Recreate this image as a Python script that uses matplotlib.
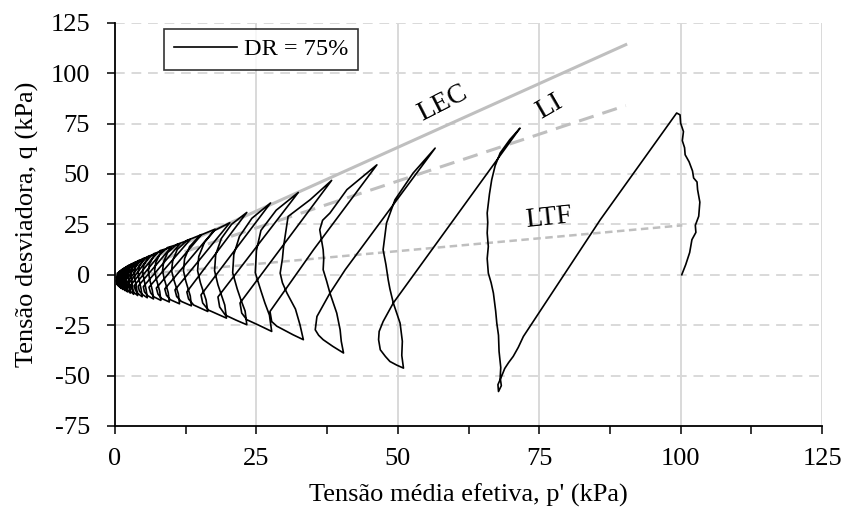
import matplotlib
matplotlib.use('Agg')
import matplotlib.pyplot as plt

plt.rcParams['font.family'] = ['Liberation Serif', 'DejaVu Serif']
plt.rcParams['axes.unicode_minus'] = False

# stress path p' (kPa), q (kPa), one line per half cycle
p_path = [
    100.2, 100.9, 101.6, 102.0, 102.7, 102.6, 103.2, 103.4, 103.0, 102.9, 102.3, 102.1, 101.5, 100.8,
    100.7, 100.3, 100.5, 100.0, 99.9, 99.3,
    85.8, 72.2, 71.3, 70.4, 69.6, 68.9, 68.4, 67.7, 67.8,
    68.3, 68.1, 68.2, 67.9, 67.8, 67.5, 67.3, 66.9, 66.5, 66.0, 65.8, 66.0, 65.8, 65.9, 65.8, 66.2,
    66.6, 67.2, 68.1, 69.8, 71.6,
    49.2, 47.4, 46.7, 46.6, 46.9, 47.8, 48.6, 49.8, 51.0,
    50.7, 50.8, 50.4, 49.8, 49.2, 48.6, 48.3, 47.9, 47.4, 47.7, 48.0, 49.5, 52.7, 56.6,
    40.7, 38.0, 35.7, 35.4, 36.0, 36.8, 38.5, 40.4,
    40.0, 39.8, 39.2, 38.0, 37.4, 36.8, 36.9, 36.8, 36.2, 36.7, 38.0, 41.0, 46.3,
    35.1, 27.4, 27.7, 28.6, 29.8, 31.5, 33.3,
    32.7, 31.9, 30.4, 29.6, 29.2, 29.6, 29.8, 30.6, 34.5, 38.3,
    22.1, 22.4, 23.3, 25.4, 27.7,
    27.3, 26.5, 25.8, 24.8, 25.0, 25.8, 28.5, 32.4,
    18.2, 18.5, 19.5, 21.4, 23.3,
    23.0, 22.2, 21.6, 20.8, 21.0, 22.0, 24.2, 27.5,
    15.2, 15.5, 16.5, 19.7,
    19.4, 18.2, 17.6, 17.8, 18.8, 20.6, 23.3,
    12.7, 13.0, 13.9, 16.4,
    16.1, 15.1, 14.6, 14.8, 15.8, 17.6, 20.3,
    10.6, 10.9, 11.7, 13.5,
    13.3, 12.5, 12.1, 12.3, 13.2, 15.0, 17.7,
    8.8, 9.1, 9.8, 11.4,
    11.2, 10.4, 10.0, 10.2, 11.0, 12.7, 15.3,
    7.3, 7.6, 8.2, 9.6,
    9.4, 8.7, 8.4, 8.6, 9.3, 10.9, 13.3,
    6.0, 6.3, 6.9, 8.1,
    7.9, 7.3, 7.0, 7.2, 7.9, 9.3, 11.5,
    5.0, 5.2, 5.8, 6.8,
    6.6, 6.1, 5.9, 6.1, 6.8, 8.0, 9.9,
    4.1, 4.3, 4.9, 5.7,
    5.5, 5.1, 4.9, 5.1, 5.8, 6.9, 8.5,
    3.4, 3.6, 4.1, 4.8,
    4.6, 4.2, 4.1, 4.3, 4.9, 5.9, 7.3,
    2.8, 3.0, 3.4, 4.0,
    3.8, 3.5, 3.4, 3.6, 4.1, 5.0, 6.2,
    2.3, 2.5, 2.8, 3.3,
    3.1, 2.9, 2.8, 3.0, 3.4, 4.2, 5.3,
    1.9, 2.0, 2.3, 2.7,
    2.6, 2.4, 2.3, 2.5, 2.9, 3.5, 4.5,
    1.5, 1.6, 1.9, 2.2,
    2.1, 1.9, 1.9, 2.0, 2.4, 2.9, 3.8,
    1.2, 1.3, 1.5, 1.8,
    1.7, 1.6, 1.5, 1.6, 2.0, 2.4, 3.1,
    0.9, 1.0, 1.2, 1.4,
    1.3, 1.2, 1.2, 1.3, 1.6, 2.0, 2.5,
    0.7, 0.8, 0.9, 1.1,
    1.0, 0.9, 0.9, 1.0, 1.3, 1.6, 2.0,
    0.5, 0.6, 0.7, 0.9,
    0.8, 0.7, 0.7, 0.8, 1.0, 1.3, 1.6,
    0.4, 0.45, 0.55, 0.7,
    0.6, 0.55, 0.5, 0.6, 0.8, 1.2,
    0.3, 0.35, 0.45, 0.55,
    0.5, 0.4, 0.35, 0.4, 0.8,
    0.2, 0.3, 0.4,
    0.35, 0.3, 0.25,
]
q_path = [
    0.0, 5.0, 11.0, 17.4, 21.0, 24.5, 29.0, 36.0, 42.2, 46.0, 48.0, 51.5, 56.0, 59.5,
    63.0, 66.5, 71.0, 75.2, 79.3, 80.2,
    27.3, -30.6, -36.0, -40.5, -43.5, -46.5, -50.0, -54.5, -57.9,
    -55.0, -51.0, -46.0, -38.0, -30.0, -24.0, -18.0, -9.1, -4.0, 0.8, 8.0, 14.0, 20.7, 26.0, 30.6, 40.0,
    47.1, 54.0, 60.4, 67.0, 72.7,
    -14.0, -23.2, -28.1, -32.2, -37.2, -40.5, -43.0, -44.8, -46.3,
    -40.0, -33.0, -24.0, -19.0, -14.0, -7.0, -2.5, 5.0, 12.4, 19.0, 25.6, 37.2, 50.4, 62.8,
    2.5, -9.1, -20.7, -27.3, -30.0, -32.2, -35.5, -38.8,
    -33.0, -27.3, -19.0, -9.1, -3.0, 2.5, 8.0, 12.4, 22.3, 27.0, 30.6, 42.2, 54.5,
    12.4, -18.2, -23.2, -25.5, -27.3, -29.8, -32.2,
    -24.8, -17.0, -9.1, -4.0, 0.8, 8.0, 14.0, 28.9, 37.2, 46.8,
    -14.0, -19.0, -22.3, -25.0, -28.1,
    -20.0, -14.0, -8.0, 1.0, 12.0, 22.0, 32.0, 40.8,
    -11.0, -16.0, -20.0, -22.5, -24.8,
    -18.0, -12.0, -7.0, 1.0, 10.0, 19.0, 28.0, 35.6,
    -10.0, -14.0, -17.5, -21.5,
    -15.0, -5.0, 2.0, 10.0, 18.0, 25.0, 30.9,
    -8.5, -12.0, -15.0, -18.2,
    -12.5, -4.0, 2.0, 9.0, 16.0, 22.0, 25.8,
    -7.5, -10.8, -13.2, -15.4,
    -10.5, -3.0, 2.0, 8.0, 14.0, 19.5, 22.6,
    -7.0, -10.2, -12.4, -14.4,
    -9.5, -2.5, 2.0, 7.0, 12.5, 17.0, 19.9,
    -6.6, -9.6, -11.7, -13.5,
    -8.8, -2.0, 2.0, 6.5, 11.0, 15.0, 17.5,
    -6.2, -9.0, -11.0, -12.7,
    -8.2, -2.0, 2.0, 6.0, 10.0, 13.5, 15.4,
    -5.9, -8.5, -10.4, -12.0,
    -7.8, -2.0, 1.5, 5.5, 9.0, 12.0, 13.6,
    -5.6, -8.1, -9.9, -11.4,
    -7.4, -2.0, 1.5, 5.0, 8.0, 10.5, 12.0,
    -5.4, -7.7, -9.4, -10.9,
    -7.0, -1.8, 1.2, 4.5, 7.0, 9.2, 10.5,
    -5.1, -7.3, -8.9, -10.3,
    -6.6, -1.6, 1.0, 4.0, 6.2, 8.1, 9.2,
    -4.8, -6.9, -8.4, -9.7,
    -6.2, -1.5, 1.0, 3.6, 5.5, 7.1, 8.1,
    -4.6, -6.5, -7.9, -9.1,
    -5.8, -1.4, 0.8, 3.2, 4.9, 6.2, 7.1,
    -4.3, -6.1, -7.4, -8.5,
    -5.4, -1.3, 0.6, 2.8, 4.3, 5.4, 6.2,
    -4.1, -5.7, -6.9, -7.9,
    -5.0, -1.2, 0.5, 2.4, 3.7, 4.7, 5.3,
    -3.9, -5.3, -6.4, -7.3,
    -4.6, -1.2, 0.4, 2.0, 3.1, 4.0, 4.5,
    -3.7, -5.0, -6.0, -6.8,
    -4.3, -1.2, 0.3, 1.6, 2.6, 3.3, 3.7,
    -3.5, -4.7, -5.6, -6.3,
    -4.0, -1.3, 0.1, 1.2, 2.1, 2.7, 3.0,
    -3.3, -4.4, -5.2, -5.8,
    -3.8, -1.5, 0.0, 1.0, 1.7, 2.3,
    -3.1, -4.1, -4.9, -5.4,
    -3.6, -1.6, -0.5, 0.5, 1.5,
    -3.0, -4.0, -5.0,
    -3.2, -2.0, -1.5,
]

# reference lines (start, end)
lec_p = [0, 90.3]
lec_q = [0, 114.1]
li_p = [0, 90.3]
li_q = [0, 83.9]
ltf_p = [0, 100.3]
ltf_q = [-1.0, 24.5]

fig = plt.figure(figsize=(8.47, 5.13), dpi=100)
ax = fig.add_axes([0.1358, 0.1696, 0.8347, 0.7862])

gray = '#BFBFBF'
grid = '#D9D9D9'

for y in range(-50, 126, 25):
    ax.axhline(y, color=grid, lw=1.4, ls=(0, (5, 3.5)), zorder=0)
for x in range(25, 126, 25):
    ax.axvline(x, color=grid, lw=1.4, zorder=0)

ax.plot(lec_p, lec_q, color=gray, lw=2.2, zorder=1)
ax.plot(li_p, li_q, color=gray, lw=2.2, ls=(0, (5, 3)), zorder=1)
ax.plot(ltf_p, ltf_q, color=gray, lw=1.8, ls=(0, (3, 1.8)), zorder=1)

ax.plot(p_path, q_path, color='black', lw=1.2, zorder=3, label='DR = 75%')

ax.text(58.0, 84.8, 'LEC', fontsize=20, rotation=27, ha='center', va='center')
ax.text(76.7, 83.1, 'LI', fontsize=20, rotation=30, ha='center', va='center')
ax.text(76.7, 28.3, 'LTF', fontsize=20, rotation=6, ha='center', va='center')

ax.set_xlim(0, 125)
ax.set_ylim(-75, 125)
ax.set_xticks(range(0, 126, 25))
ax.set_xticks([12.5 + 25 * i for i in range(5)], minor=True)
ax.set_yticks(range(-75, 126, 25))
ax.tick_params(axis='both', which='both', direction='out', width=1.1,
               labelsize=19, colors='black')
ax.tick_params(axis='x', which='both', length=6, pad=9.5)
ax.tick_params(axis='y', length=6, pad=12)

for s in ['top', 'right']:
    ax.spines[s].set_visible(False)
for s in ['left', 'bottom']:
    ax.spines[s].set_linewidth(1.3)

ax.set_xlabel("Tensão média efetiva, p' (kPa)", fontsize=19, labelpad=10)
ax.set_ylabel('Tensão desviadora, q (kPa)', fontsize=19, labelpad=8)

leg = ax.legend(loc='upper left', bbox_to_anchor=(0.069, 0.985), fontsize=17.5,
                frameon=True, fancybox=False, edgecolor='black', handlelength=2.6,
                borderpad=0.4, handletextpad=0.3, borderaxespad=0)
leg.get_frame().set_linewidth(1.2)

fig.savefig('out.png', dpi=100)
